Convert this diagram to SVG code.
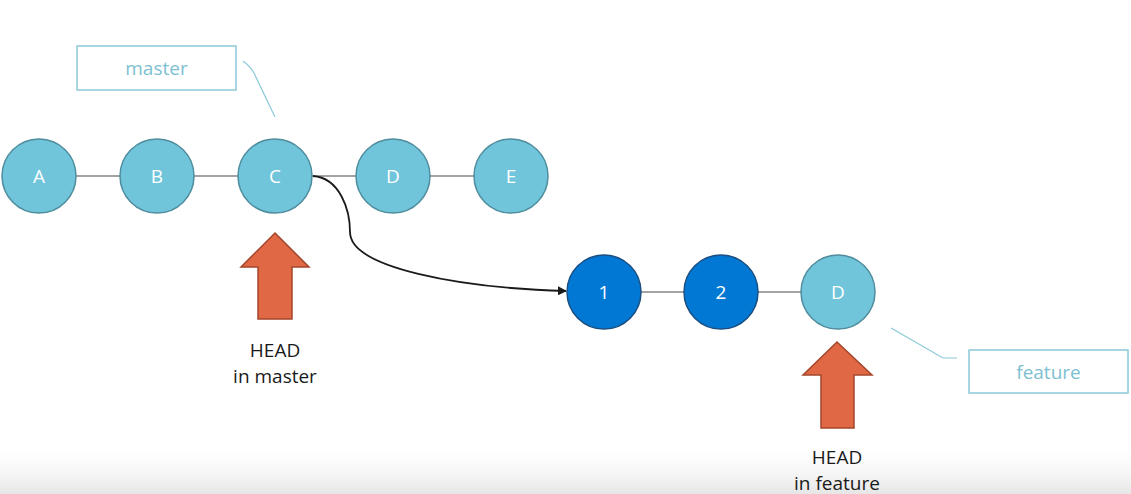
<svg xmlns="http://www.w3.org/2000/svg" width="1131" height="494" viewBox="0 0 1131 494">
<defs>
<linearGradient id="fade" x1="0" y1="0" x2="0" y2="1">
<stop offset="0" stop-color="#ffffff" stop-opacity="0"/>
<stop offset="1" stop-color="#e6e6e6"/>
</linearGradient>
<marker id="ah" viewBox="0 0 10 10" refX="9" refY="5" markerWidth="9" markerHeight="9" orient="auto" markerUnits="userSpaceOnUse">
<path d="M0,0 L10,5 L0,10 z" fill="#1a1a1a"/>
</marker>
<style>
.c{fill:#70C5DB;stroke:#4F8D9E;stroke-width:1.5}
.cd{fill:#0078D4;stroke:#1B4F82;stroke-width:1.5}
.t{font-family:"Open Sans","Noto Sans",sans-serif;font-size:19px;fill:#ffffff;text-anchor:middle}
.lbl{fill:#ffffff;stroke:#8CC8D8;stroke-width:1.5}
.lt{font-family:"Open Sans","Noto Sans",sans-serif;font-size:19px;fill:#7DBFD2;text-anchor:middle}
.ln{stroke:#A3A3A3;stroke-width:2;fill:none}
.lead{stroke:#8CC8D8;stroke-width:1.2;fill:none}
.arr{fill:#E06844;stroke:#A3462B;stroke-width:1.5}
.ht{font-family:"Open Sans","Noto Sans",sans-serif;font-size:19px;fill:#1a1a1a;text-anchor:middle}
</style>
</defs>
<rect x="0" y="0" width="1131" height="494" fill="#ffffff"/>
<rect x="0" y="440" width="1131" height="54" fill="url(#fade)"/>
<g id="connectors">
<line class="ln" x1="76" y1="176" x2="120" y2="176"/>
<line class="ln" x1="194" y1="176" x2="238" y2="176"/>
<line class="ln" x1="312" y1="176" x2="356" y2="176"/>
<line class="ln" x1="430" y1="176" x2="474" y2="176"/>
<line class="ln" x1="641" y1="292" x2="684" y2="292"/>
<line class="ln" x1="758" y1="292" x2="801" y2="292"/>
<path d="M313,176 C340,178 350,210 350,232 C350,268 460,288 566,291" stroke="#1a1a1a" stroke-width="1.8" fill="none" marker-end="url(#ah)"/>
<path class="lead" d="M243,61 Q250,66 254,73 L275,117"/>
<path class="lead" d="M891,328 L943,358 L957,358"/>
</g>
<g id="master-label">
<rect class="lbl" x="77" y="46" width="159" height="44"/>
<text class="lt" x="156.5" y="75">master</text>
</g>
<g id="feature-label">
<rect class="lbl" x="969" y="350" width="159" height="43"/>
<text class="lt" x="1048.5" y="379">feature</text>
</g>
<g id="node-A"><circle class="c" cx="39" cy="176" r="37"/><text class="t" x="39" y="183">A</text></g>
<g id="node-B"><circle class="c" cx="157" cy="176" r="37"/><text class="t" x="157" y="183">B</text></g>
<g id="node-C"><circle class="c" cx="275" cy="176" r="37"/><text class="t" x="275" y="183">C</text></g>
<g id="node-D"><circle class="c" cx="393" cy="176" r="37"/><text class="t" x="393" y="183">D</text></g>
<g id="node-E"><circle class="c" cx="511" cy="176" r="37"/><text class="t" x="511" y="183">E</text></g>
<g id="node-1"><circle class="cd" cx="604" cy="292" r="37"/><text class="t" x="604" y="299">1</text></g>
<g id="node-2"><circle class="cd" cx="721" cy="292" r="37"/><text class="t" x="721" y="299">2</text></g>
<g id="node-D2"><circle class="c" cx="838" cy="292" r="37"/><text class="t" x="838" y="299">D</text></g>
<g id="head-master">
<polygon class="arr" points="275,233 309,267 292,267 292,319 258,319 258,267 241,267"/>
<text class="ht" x="275" y="357">HEAD</text>
<text class="ht" x="275" y="383">in master</text>
</g>
<g id="head-feature">
<polygon class="arr" points="837,342 872,375 854,375 854,428 821,428 821,375 803,375"/>
<text class="ht" x="837" y="464">HEAD</text>
<text class="ht" x="837" y="490">in feature</text>
</g>
</svg>
